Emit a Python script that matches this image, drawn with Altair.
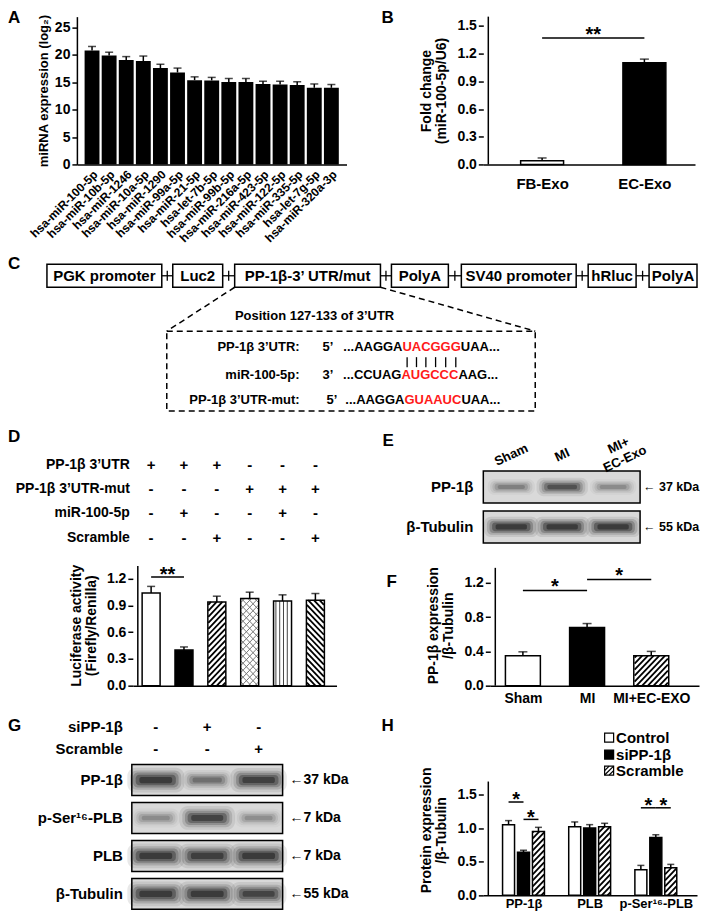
import json
import altair as alt
import numpy as np
import pandas as pd

FONT = "Liberation Sans, Arial, DejaVu Sans, sans-serif"

# ====================== DATA ======================
# A
A_MIRNA = ["hsa-miR-100-5p", "hsa-miR-10b-5p", "hsa-miR-1246", "hsa-miR-10a-5p", "hsa-miR-1290",
           "hsa-miR-99a-5p", "hsa-miR-21-5p", "hsa-let-7b-5p", "hsa-miR-99b-5p", "hsa-miR-216a-5p",
           "hsa-miR-423-5p", "hsa-miR-122-5p", "hsa-miR-335-5p", "hsa-let-7g-5p", "hsa-miR-320a-3p"]
A_VALUE = [20.8, 19.9, 19.1, 18.9, 17.6, 16.8, 15.4, 15.35, 15.05, 15.05, 14.7, 14.6, 14.5, 14.0, 14.0]
A_ERR = [0.75, 0.6, 0.6, 0.9, 0.7, 0.8, 0.6, 0.55, 0.65, 0.65, 0.5, 0.6, 0.6, 0.7, 0.6]
A_TICKS = [0, 5, 10, 15, 20, 25]

# B
B_GROUP = ["FB-Exo", "EC-Exo"]
B_VALUE = [0.04, 1.10]
B_ERR = [0.03, 0.04]
B_TICKS = [0, 0.3, 0.6, 0.9, 1.2, 1.5]
B_SIG = [(0, 1, 1.37, 1.47, "**")]

# C
C_BOXES = ["PGK promoter", "Luc2", "PP-1β-3’ UTR/mut", "PolyA", "SV40 promoter", "hRluc", "PolyA"]
C_POSITION = "Position 127-133 of 3’UTR"
C_ROW_LABELS = ["PP-1β 3’UTR:", "miR-100-5p:", "PP-1β 3’UTR-mut:"]
C_ROW_END = ["5’", "3’", "5’"]
C_SEQ_PRE = ["...AAGGA", "...CCUAG", "...AAGGA"]
C_SEQ_SEED = ["UACGGG", "AUGCCC", "GUAAUC"]
C_SEQ_POST = ["UAA...", "AAG...", "UAA..."]

# D
D_COND_ROWS = ["PP-1β 3’UTR", "PP-1β 3’UTR-mut", "miR-100-5p", "Scramble"]
D_COND_SIGNS = [["+", "+", "+", "-", "-", "-"],
                ["-", "-", "-", "+", "+", "+"],
                ["-", "+", "-", "-", "+", "-"],
                ["-", "-", "+", "-", "-", "+"]]
D_VALUE = [1.04, 0.40, 0.94, 0.98, 0.95, 0.96]
D_ERR = [0.075, 0.035, 0.065, 0.07, 0.07, 0.075]
D_TICKS = [0, 0.3, 0.6, 0.9, 1.2]
D_SIG = [(0, 1, 1.22, 1.31, "**")]

# E
E_LANES = ["Sham", "MI", "MI+\nEC-Exo"]
E_PROTEINS = ["PP-1β", "β-Tubulin"]
E_KDA = ["37 kDa", "55 kDa"]
E_BAND = [[0.40, 0.72, 0.35], [0.95, 0.95, 0.95]]

# F
F_GROUP = ["Sham", "MI", "MI+EC-EXO"]
F_VALUE = [0.35, 0.68, 0.35]
F_ERR = [0.045, 0.045, 0.05]
F_TICKS = [0, 0.4, 0.8, 1.2]
F_SIG = [(0, 1, 1.111, 1.22, "*"), (1, 2, 1.239, 1.35, "*")]

# G
G_COND_ROWS = ["siPP-1β", "Scramble"]
G_COND_SIGNS = [["-", "+", "-"], ["-", "-", "+"]]
G_PROTEINS = ["PP-1β", "p-Ser¹⁶-PLB", "PLB", "β-Tubulin"]
G_KDA = ["37 kDa", "7 kDa", "7 kDa", "55 kDa"]
G_BAND = [[0.95, 0.50, 0.90], [0.35, 0.85, 0.33], [0.95, 0.92, 0.95], [0.95, 0.95, 0.85]]

# H
H_PROTEIN = ["PP-1β", "PLB", "p-Ser¹⁶-PLB"]
H_SERIES = ["Control", "siPP-1β", "Scramble"]
H_VALUE = [[1.05, 0.64, 0.95], [1.02, 1.00, 1.02], [0.38, 0.86, 0.41]]
H_ERR = [[0.06, 0.03, 0.06], [0.07, 0.05, 0.05], [0.065, 0.04, 0.05]]
H_TICKS = [0, 0.5, 1.0, 1.5]
H_SIG = [(0, 0, 1, 1.386, 1.50, "*"), (0, 1, 2, 1.128, 1.24, "*"),
         (2, 0, 1, 1.30, 1.42, "*"), (2, 1, 2, 1.30, 1.42, "*")]

# ====================== STYLE ======================
HATCH = {"fwd": (6, "black", 1.8), "back": (6, "black", 1.8),
         "cross": (7, "#777777", 1.0), "vert": (4, "#444444", 1.0)}
BLOT_BG = "#d9d9d9"
BAND_COLOR = "#141414"
BLUR = [(1.25, 2.0, 0.10), (1.12, 1.55, 0.16), (1.0, 1.2, 0.24), (0.88, 0.85, 0.36), (0.72, 0.5, 0.5)]
SEQ_W = {"A": 0.722, "C": 0.722, "G": 0.778, "U": 0.722}


def T(**kw):
    d = dict(font=FONT, fontWeight="bold", color="black")
    d.update(kw)
    return d


def letters_layer(items):
    out = []
    for t, lx, ly in items:
        out.append(alt.Chart(pd.DataFrame({"t": [t]})).mark_text(
            **T(fontSize=17, align="left", baseline="top")).encode(
            text="t:N", x=alt.value(lx), y=alt.value(ly)))
    return out


def spacer(w, h, letters=(), extent=None):
    layers = []
    if extent is not None:
        # invisible block that fixes this row's vertical extent for the outer layout
        layers.append(alt.Chart(pd.DataFrame({"a": [0]})).mark_rect(opacity=0).encode(
            x=alt.value(0), x2=alt.value(1), y=alt.value(extent[0]), y2=alt.value(extent[1])))
    layers += letters_layer(list(letters)) if letters else []
    if not layers:
        layers.append(alt.Chart(pd.DataFrame({"t": [""]})).mark_text().encode(
            text="t:N", x=alt.value(0), y=alt.value(0)))
    return alt.layer(*layers).properties(width=w, height=h)


def hatch(xc, top, bar_px, kx, ky, kind, sp, col, sw):
    w = bar_px
    h = top * ky
    out = []

    def add(u0, v0, u1, v1):
        out.append((xc + (u0 - w / 2) / kx, v0 / ky, xc + (u1 - w / 2) / kx, v1 / ky, col, sw))

    if kind in ("fwd", "cross"):
        c = -w + sp / 2
        while c < h:
            ua, ub = max(0, -c), min(w, h - c)
            if ub - ua > 0.3:
                add(ua, ua + c, ub, ub + c)
            c += sp
    if kind in ("back", "cross"):
        c = sp / 2
        while c < w + h:
            ua, ub = max(0, c - h), min(w, c)
            if ub - ua > 0.3:
                add(ua, c - ua, ub, c - ub)
            c += sp
    if kind == "vert":
        u = sp / 2
        while u < w:
            add(u, 0, u, h)
            u += sp
    return out


def bar_panel(x, val, err, style, bar_px, cap_px, width, height, xdom, ydom, axx, axy, axis_top):
    kx = width / (xdom[1] - xdom[0])
    ky = height / (ydom[1] - ydom[0])
    xs = alt.Scale(domain=xdom, nice=False, zero=False)
    ys = alt.Scale(domain=ydom, nice=False, zero=False)
    df = pd.DataFrame({"x": x, "val": val, "err": err, "style": style})
    df["top"] = df["val"] + df["err"]
    df["fill"] = np.where(df["style"] == "solid", "black", "white")
    X = alt.X("x:Q", scale=xs, axis=axx)
    Y = alt.Y("val:Q", scale=ys, axis=axy)
    yl = pd.DataFrame({"x": [xdom[0]], "y0": [0.0], "y1": [axis_top]})
    layers = [alt.Chart(yl).mark_rule(color="black", strokeWidth=1.5).encode(
        x=alt.X("x:Q", scale=xs, axis=axx), y=alt.Y("y0:Q", scale=ys, axis=axy), y2="y1:Q")]
    layers.append(alt.Chart(df).mark_bar(orient="vertical", size=bar_px).encode(
        x=X, y=Y, y2=alt.datum(0), fill=alt.Fill("fill:N", scale=None)))
    segs = []
    for xi, v, st in zip(x, val, style):
        if st in HATCH:
            segs += hatch(xi, v, bar_px, kx, ky, st, *HATCH[st])
    if segs:
        hd = pd.DataFrame(segs, columns=["x0", "y0", "x1", "y1", "col", "sw"])
        layers.append(alt.Chart(hd).mark_rule().encode(
            x=alt.X("x0:Q", scale=xs, axis=axx), x2="x1:Q",
            y=alt.Y("y0:Q", scale=ys, axis=axy), y2="y1:Q",
            color=alt.Color("col:N", scale=None), strokeWidth=alt.StrokeWidth("sw:Q", scale=None)))
    layers.append(alt.Chart(df).mark_bar(orient="vertical", size=bar_px, fillOpacity=0,
                                         stroke="black", strokeWidth=1.5).encode(x=X, y=Y, y2=alt.datum(0)))
    layers.append(alt.Chart(df).mark_rule(color="black", strokeWidth=1.5).encode(x=X, y=Y, y2="top:Q"))
    layers.append(alt.Chart(df).mark_tick(color="black", orient="horizontal", size=cap_px, thickness=1.5).encode(
        x=X, y=alt.Y("top:Q", scale=ys, axis=axy)))
    return layers, xs, ys


def sig_layers(sigs, xs, ys, axx, axy, fs):
    rows = []
    for s in sigs:
        xa, xb, yl, yst, t = s
        rows.append({"xa": xa, "xb": xb, "xm": (xa + xb) / 2, "yl": yl, "ys": yst, "t": t})
    df = pd.DataFrame(rows)
    return [
        alt.Chart(df).mark_rule(color="black", strokeWidth=1.5).encode(
            x=alt.X("xa:Q", scale=xs, axis=axx), x2="xb:Q", y=alt.Y("yl:Q", scale=ys, axis=axy)),
        alt.Chart(df).mark_text(**T(fontSize=fs, align="center", baseline="middle", dy=6)).encode(
            x=alt.X("xm:Q", scale=xs, axis=axx), y=alt.Y("ys:Q", scale=ys, axis=axy), text="t:N"),
    ]


def blot(proteins, band, kda, arrow, width, height, lane0, lane_step, box_x, row0, pitch, box_px,
         base_w, base_h, label_x, kda_x, kda_fs, extra):
    xdom = [-lane0 / lane_step, (width - lane0) / lane_step]
    ydom = [-row0 / pitch, (height - row0) / pitch]
    kx, ky = lane_step, pitch
    xs = alt.Scale(domain=xdom, nice=False, zero=False)
    ys = alt.Scale(domain=ydom, nice=False, zero=False, reverse=True)
    hb = box_px / 2 / ky
    rows = pd.DataFrame({"r": list(range(len(proteins))), "p": proteins, "k": [arrow + k for k in kda]})
    rows["y0"] = rows["r"] - hb
    rows["y1"] = rows["r"] + hb
    rows["x0"] = (box_x[0] - lane0) / lane_step
    rows["x1"] = (box_x[1] - lane0) / lane_step
    X0 = alt.X("x0:Q", scale=xs, axis=None)
    Y0 = alt.Y("y0:Q", scale=ys, axis=None)
    layers = [alt.Chart(rows).mark_rect(fill=BLOT_BG).encode(x=X0, x2="x1:Q", y=Y0, y2="y1:Q")]
    for fw, fh, a in BLUR:
        recs = []
        for r, lane_vals in enumerate(band):
            for lane, I in enumerate(lane_vals):
                w = base_w * (0.8 + 0.25 * I) * fw
                h = base_h * (0.7 + 0.45 * I) * fh
                recs.append({"x0": lane - w / 2 / kx, "x1": lane + w / 2 / kx,
                             "y0": r - h / 2 / ky, "y1": r + h / 2 / ky, "op": min(1.0, I * a)})
        layers.append(alt.Chart(pd.DataFrame(recs)).mark_rect(
            color=BAND_COLOR, cornerRadius=base_h * fh * 0.38).encode(
            x=X0, x2="x1:Q", y=Y0, y2="y1:Q", opacity=alt.Opacity("op:Q", scale=None)))
    layers.append(alt.Chart(rows).mark_rect(fillOpacity=0, stroke="black", strokeWidth=1.5).encode(
        x=X0, x2="x1:Q", y=Y0, y2="y1:Q"))
    layers.append(alt.Chart(rows).mark_text(**T(fontSize=15, align="right", baseline="middle")).encode(
        x=alt.value(label_x), y=alt.Y("r:Q", scale=ys, axis=None), text="p:N"))
    layers.append(alt.Chart(rows).mark_text(**T(fontSize=kda_fs, align="left", baseline="middle")).encode(
        x=alt.value(kda_x), y=alt.Y("r:Q", scale=ys, axis=None), text="k:N"))
    layers += extra(xs, ys)
    return alt.layer(*layers).properties(width=width, height=height)


def yaxis(values, title, pad):
    return alt.Axis(values=values, format=".1f", title=title, titlePadding=pad, domain=False)


# ====================== PANEL A ======================
dfA = pd.DataFrame({"name": A_MIRNA, "val": A_VALUE, "err": A_ERR})
dfA["top"] = dfA["val"] + dfA["err"]
xA = alt.X("name:N", sort=A_MIRNA,
           scale=alt.Scale(domain=A_MIRNA, paddingInner=0.13, paddingOuter=0.45),
           axis=alt.Axis(title=None, labelAngle=-45, ticks=False, labelFontSize=12,
                         labelPadding=4, labelOverlap=False))
ysA = alt.Scale(domain=[0, 27], nice=False, zero=False)
axA = alt.Axis(values=A_TICKS, format="d", title="miRNA expression (log₂)", titlePadding=4, titleFontSize=13)
baseA = alt.Chart(dfA).encode(x=xA)
chartA = alt.layer(
    baseA.mark_bar(color="black").encode(y=alt.Y("val:Q", scale=ysA, axis=axA)),
    baseA.mark_rule(color="black", strokeWidth=1.5).encode(y=alt.Y("val:Q", scale=ysA, axis=axA), y2="top:Q"),
    baseA.mark_tick(color="black", orient="horizontal", size=8, thickness=1.5).encode(
        y=alt.Y("top:Q", scale=ysA, axis=axA)),
).properties(width=270, height=148)

# ====================== PANEL B ======================
axBx = alt.Axis(values=[0, 1], labelExpr=json.dumps(B_GROUP, ensure_ascii=False) + "[datum.value]",
                ticks=False, title=None, labelPadding=12, labelAngle=0, labelFontSize=15)
axBy = yaxis(B_TICKS, ["Fold change", "(miR-100-5p/U6)"], 8)
lB, xsB, ysB = bar_panel([0, 1], B_VALUE, B_ERR, ["open", "solid"], 43, 9, 212, 148,
                         [-0.526, 1.446], [0, 1.6], axBx, axBy, 1.6)
lB += sig_layers(B_SIG, xsB, ysB, axBx, axBy, 20)
chartB = alt.layer(*lB).properties(width=212, height=148)

# ====================== PANEL C ======================
C_BOX_X = [(0, 115), (126, 176), (188, 334), (345, 402), (415, 530), (542, 590), (603, 651)]
C_W, C_H = 651, 147
xsC = alt.Scale(domain=[0, C_W], nice=False, zero=False)
ysC = alt.Scale(domain=[0, C_H], nice=False, zero=False, reverse=True)


def CX(f):
    return alt.X(f + ":Q", scale=xsC, axis=None)


def CY(f):
    return alt.Y(f + ":Q", scale=ysC, axis=None)


cbox = pd.DataFrame({"label": C_BOXES, "x0": [b[0] for b in C_BOX_X], "x1": [b[1] for b in C_BOX_X]})
cbox["xc"] = (cbox["x0"] + cbox["x1"]) / 2
cbox["y0"] = 0
cbox["y1"] = 23
cbox["yc"] = 11.5
conn = pd.DataFrame({"x0": cbox["x1"].values[:-1], "x1": cbox["x0"].values[1:]})
conn["xm"] = (conn["x0"] + conn["x1"]) / 2
conn["y"] = 11.5
conn["t0"] = 6.5
conn["t1"] = 16.5
dash = pd.DataFrame({"x0": [188, 334], "y0": [23, 23], "x1": [120, 489], "y1": [67, 67]})
inner = pd.DataFrame({"x0": [120], "x1": [489], "y0": [67], "y1": [147]})
row_y = [83, 111, 136]
prime_x = [276, 276, 280]
seed_x = [356, 355, 358]
seq = pd.DataFrame({"lab": C_ROW_LABELS, "end": C_ROW_END, "pre": C_SEQ_PRE, "seed": C_SEQ_SEED,
                    "post": C_SEQ_POST, "y": row_y, "px": prime_x, "sx": seed_x})
seq["lx"] = 253
seq["ex"] = [sx + 13 * sum(SEQ_W[ch] for ch in sd) for sx, sd in zip(seed_x, C_SEQ_SEED)]
pair_x = []
acc = seed_x[0]
for ch in C_SEQ_SEED[0]:
    pair_x.append(acc + 13 * SEQ_W[ch] / 2)
    acc += 13 * SEQ_W[ch]
pairs = pd.DataFrame({"x": pair_x, "y0": 93, "y1": 103})
pos = pd.DataFrame({"t": [C_POSITION], "x": [268], "y": [52]})

chartC = alt.layer(
    alt.Chart(conn).mark_rule(color="black", strokeWidth=1.3).encode(x=CX("x0"), x2="x1:Q", y=CY("y")),
    alt.Chart(conn).mark_rule(color="black", strokeWidth=1.3).encode(x=CX("xm"), y=CY("t0"), y2="t1:Q"),
    alt.Chart(cbox).mark_rect(fill="white", stroke="black", strokeWidth=1.5).encode(
        x=CX("x0"), x2="x1:Q", y=CY("y0"), y2="y1:Q"),
    alt.Chart(cbox).mark_text(**T(fontSize=15, align="center", baseline="middle")).encode(
        x=CX("xc"), y=CY("yc"), text="label:N"),
    alt.Chart(dash).mark_rule(color="black", strokeWidth=1.5, strokeDash=[6, 4]).encode(
        x=CX("x0"), x2="x1:Q", y=CY("y0"), y2="y1:Q"),
    alt.Chart(inner).mark_rect(fillOpacity=0, stroke="black", strokeWidth=1.5, strokeDash=[6, 4]).encode(
        x=CX("x0"), x2="x1:Q", y=CY("y0"), y2="y1:Q"),
    alt.Chart(pos).mark_text(**T(fontSize=13, align="center", baseline="middle")).encode(
        x=CX("x"), y=CY("y"), text="t:N"),
    alt.Chart(seq).mark_text(**T(fontSize=13, align="right", baseline="middle")).encode(
        x=CX("lx"), y=CY("y"), text="lab:N"),
    alt.Chart(seq).mark_text(**T(fontSize=13, align="left", baseline="middle")).encode(
        x=CX("px"), y=CY("y"), text="end:N"),
    alt.Chart(seq).mark_text(**T(fontSize=13, align="right", baseline="middle")).encode(
        x=CX("sx"), y=CY("y"), text="pre:N"),
    alt.Chart(seq).mark_text(**T(fontSize=13, align="left", baseline="middle", color="#ff1a1a")).encode(
        x=CX("sx"), y=CY("y"), text="seed:N"),
    alt.Chart(seq).mark_text(**T(fontSize=13, align="left", baseline="middle")).encode(
        x=CX("ex"), y=CY("y"), text="post:N"),
    alt.Chart(pairs).mark_rule(color="black", strokeWidth=1.3).encode(x=CX("x"), y=CY("y0"), y2="y1:Q"),
).properties(width=C_W, height=C_H)

# ====================== PANEL D ======================
axDx = alt.Axis(labels=False, ticks=False, title=None)
axDy = yaxis(D_TICKS, ["Luciferase activity", "(Firefly/Renilla)"], 8)
lD, xsD, ysD = bar_panel(list(range(6)), D_VALUE, D_ERR,
                         ["open", "solid", "fwd", "cross", "vert", "back"], 18, 8, 204, 121,
                         [-0.405, 5.491], [0, 1.357], axDx, axDy, 1.345)
lD += sig_layers(D_SIG, xsD, ysD, axDx, axDy, 20)
D_ROW_PY = [-100, -76, -52, -27]
for r, (lab, signs) in enumerate(zip(D_COND_ROWS, D_COND_SIGNS)):
    sdf = pd.DataFrame({"c": list(range(6)), "s": signs})
    lD.append(alt.Chart(sdf).mark_text(**T(fontSize=15, align="center", baseline="middle")).encode(
        x=alt.X("c:Q", scale=xsD, axis=axDx), y=alt.value(D_ROW_PY[r]), text="s:N"))
    lD.append(alt.Chart(pd.DataFrame({"t": [lab]})).mark_text(
        **T(fontSize=14, align="right", baseline="middle")).encode(
        x=alt.value(-3), y=alt.value(D_ROW_PY[r]), text="t:N"))
chartD = alt.layer(*lD).properties(width=204, height=121)


# ====================== PANEL E (view sits between D and F, drawn upward) ======================
def e_extra(xs, ys):
    d1 = pd.DataFrame({"lane": [0, 1], "t": E_LANES[:2]})
    d2 = pd.DataFrame({"lane": [2], "t": [E_LANES[2]]})
    return [
        alt.Chart(d1).mark_text(**T(fontSize=13, angle=335, align="center", baseline="middle")).encode(
            x=alt.X("lane:Q", scale=xs, axis=None), y=alt.value(-110), text="t:N"),
        alt.Chart(d2).mark_text(**T(fontSize=13, angle=335, align="center", baseline="middle",
                                    lineBreak="\n", dx=6)).encode(
            x=alt.X("lane:Q", scale=xs, axis=None), y=alt.value(-117), text="t:N"),
    ] + letters_layer([("E", 46, -132), ("F", 50, 9)])


chartE = blot(E_PROTEINS, E_BAND, E_KDA, "← ", 154, 121, lane0=175, lane_step=51, box_x=(147, 304),
              row0=-78, pitch=40, box_px=32, base_w=42, base_h=9, label_x=137, kda_x=307, kda_fs=12.5,
              extra=e_extra)

# ====================== PANEL F ======================
axFx = alt.Axis(values=[0, 1, 2], labelExpr=json.dumps(F_GROUP, ensure_ascii=False) + "[datum.value]",
                ticks=False, title=None, labelPadding=6, labelAngle=0, labelFlush=False)
axFy = yaxis(F_TICKS, ["PP-1β expression", "/β-Tubulin"], 8)
lF, xsF, ysF = bar_panel([0, 1, 2], F_VALUE, F_ERR, ["open", "solid", "fwd"], 35, 9, 209, 121,
                         [-0.43, 2.666], [0, 1.41], axFx, axFy, 1.375)
lF += sig_layers(F_SIG, xsF, ysF, axFx, axFy, 20)
chartF = alt.layer(*lF).properties(width=209, height=121)


# ====================== PANEL G ======================
def g_extra(xs, ys):
    out = []
    for py, lab, signs in zip([-38, -16], G_COND_ROWS, G_COND_SIGNS):
        sdf = pd.DataFrame({"lane": [0, 1, 2], "s": signs})
        out.append(alt.Chart(sdf).mark_text(**T(fontSize=15, align="center", baseline="middle")).encode(
            x=alt.X("lane:Q", scale=xs, axis=None), y=alt.value(py), text="s:N"))
        out.append(alt.Chart(pd.DataFrame({"t": [lab]})).mark_text(
            **T(fontSize=15, align="right", baseline="middle")).encode(
            x=alt.value(-9), y=alt.value(py), text="t:N"))
    return out


chartG = blot(G_PROTEINS, G_BAND, G_KDA, "←", 151, 131, lane0=24, lane_step=51.5, box_x=(0, 151),
              row0=15.5, pitch=38, box_px=31, base_w=44, base_h=11, label_x=-9, kda_x=158, kda_fs=14,
              extra=g_extra)

# ====================== PANEL H ======================
H_OFF = [-0.226, 0.0, 0.226]
hx, hv, he, hs = [], [], [], []
for g in range(3):
    for s in range(3):
        hx.append(g + H_OFF[s])
        hv.append(H_VALUE[g][s])
        he.append(H_ERR[g][s])
        hs.append(["open", "solid", "fwd"][s])
axHx = alt.Axis(values=[0, 1, 2], labelExpr=json.dumps(H_PROTEIN, ensure_ascii=False) + "[datum.value]",
                ticks=False, title=None, labelPadding=2, labelAngle=0, labelFlush=False, labelFontSize=13)
axHy = yaxis(H_TICKS, ["Protein expression", "/β-Tubulin"], 8)
lH, xsH, ysH = bar_panel(hx, hv, he, hs, 12, 7, 214, 131, [-0.532, 2.547], [0, 1.942], axHx, axHy, 1.69)
hsig = [(g + H_OFF[a], g + H_OFF[b], yl, yst, t) for g, a, b, yl, yst, t in H_SIG]
lH += sig_layers(hsig, xsH, ysH, axHx, axHy, 20)
for i, (name, fill) in enumerate(zip(H_SERIES, ["white", "black", "white"])):
    py = [-27, -10, 6][i]
    one = pd.DataFrame({"t": [name], "f": [fill]})
    lH.append(alt.Chart(one).mark_square(size=81, stroke="black", strokeWidth=1.2, opacity=1).encode(
        x=alt.value(126), y=alt.value(py), fill=alt.Fill("f:N", scale=None)))
    lH.append(alt.Chart(one).mark_text(**T(fontSize=15, align="left", baseline="middle")).encode(
        x=alt.value(133), y=alt.value(py), text="t:N"))
    if i == 2:
        a0, b0 = 121.5, py - 4.5
        for c in [4.5, 9.0, 13.5]:
            u0, u1 = max(0, c - 9), min(9, c)
            lH.append(alt.Chart(one).mark_rule(color="black", strokeWidth=1.2).encode(
                x=alt.value(a0 + u0), y=alt.value(b0 + c - u0), x2=alt.value(a0 + u1), y2=alt.value(b0 + c - u1)))
chartH = alt.layer(*lH).properties(width=214, height=131)

# ====================== LAYOUT ======================
# each row's vertical extent is fixed by an invisible block, so rows tile exactly
row1 = alt.hconcat(spacer(69, 148, [("A", 0, -7)], extent=(-7, 237)), chartA,
                   spacer(137, 148, [("B", 35, -7)]), chartB, spacing=0, bounds="flush")
rowC = alt.hconcat(spacer(39, 147, [("C", 0, -8)], extent=(-11, 162)), chartC, spacing=0, bounds="flush")
row3 = alt.hconcat(spacer(125, 121, [("D", 0, -136)], extent=(-139, 148)), chartD, chartE, chartF,
                   spacing=0, bounds="flush")
row4 = alt.hconcat(spacer(124, 131, [("G", 0, -47)], extent=(-52, 147)), chartG,
                   spacer(201, 131, [("H", 99, -47)]), chartH, spacing=0, bounds="flush")

chart = alt.vconcat(row1, rowC, row3, row4, spacing=0, padding=0, background="white")
chart = chart.configure_view(strokeWidth=0).configure_axis(
    labelFont=FONT, labelFontSize=14, labelFontWeight="bold", labelColor="black",
    titleFont=FONT, titleFontSize=14, titleFontWeight="bold", titleColor="black",
    domainColor="black", domainWidth=1.5, tickColor="black", tickWidth=1.5, tickSize=5,
    grid=False, labelPadding=2, labelFlush=False, titleLineHeight=15,
)

chart.save("out.html", embed_options={"renderer": "svg", "actions": False})
